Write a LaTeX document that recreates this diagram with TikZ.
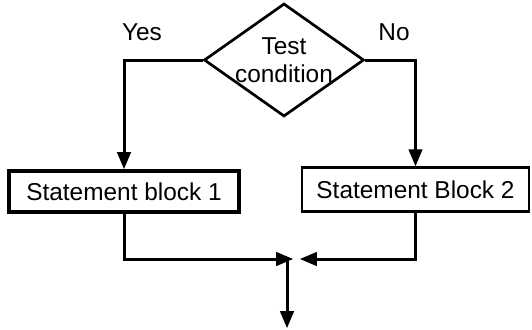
\documentclass[tikz,border=0pt]{standalone}
\usepackage{fontspec}
\setmainfont{Liberation Sans}
\usetikzlibrary{arrows,shapes.geometric}

\begin{document}
\begin{tikzpicture}[>=triangle 45,x=1bp,y=-1bp,line width=3bp,
  every node/.style={font=\fontsize{24.5}{28}\selectfont},
  decision/.style={draw,diamond,line width=2.7bp,inner sep=0pt,
    minimum width=160bp,minimum height=113bp},
  block/.style={draw,rectangle,inner sep=0pt}]
\useasboundingbox (0,0) rectangle (532,329);
\draw (284,60) node[decision] (testCond) {};
\draw (testCond) node[align=center] (testText) {Test\\condition};
\draw (142,32) node (yesLabel) {Yes};
\draw (394,32) node (noLabel) {No};
%
\draw (124,191.5) node[block,line width=4bp,minimum width=230bp,
  minimum height=41bp] (stmtBlock1) {Statement block 1};
\draw (415.5,189.5) node[block,line width=2.7bp,minimum width=227bp,
  minimum height=44bp] (stmtBlock2) {Statement Block 2};
\path[draw,->] (testCond.west) -| (stmtBlock1.north);
\path[draw,->] (testCond.east) -| (stmtBlock2.north);
%
\coordinate (joinPoint) at (287,259);
\coordinate (joinLeft) at (293,259);
\coordinate (joinRight) at (300,259);
\coordinate (exitPoint) at (287,328);
\path[draw,->] (stmtBlock1.south) |- (joinLeft);
\path[draw,->] (stmtBlock2.south) |- (joinRight);
\path[draw,->] (joinPoint) -- (exitPoint);
\end{tikzpicture}
\end{document}
